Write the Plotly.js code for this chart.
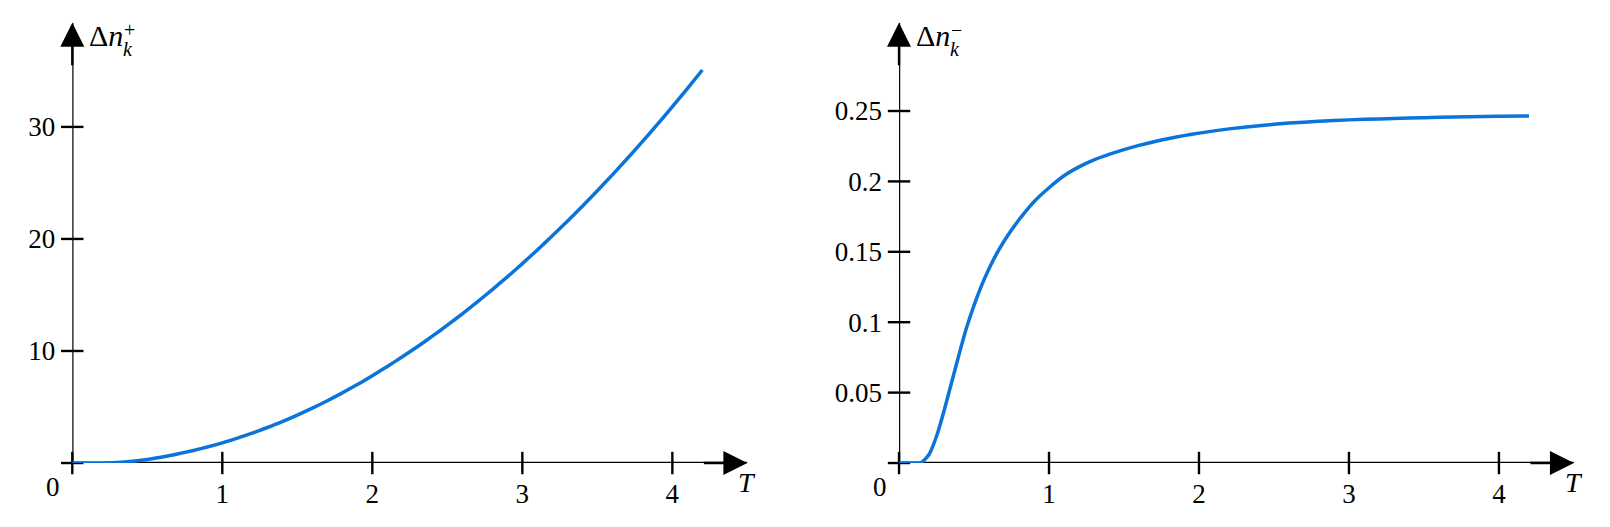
<!DOCTYPE html>
<html>
<head>
<meta charset="utf-8">
<script src="https://cdn.plot.ly/plotly-3.0.1.min.js"></script>
<style>
  html, body { margin: 0; padding: 0; background: #fff; }
  #chart { width: 1610px; height: 527px; }
</style>
</head>
<body>
<div id="chart"></div>
<script>
const tPlus = [0, 0.1, 0.2, 0.3, 0.4, 0.5, 0.6, 0.7, 0.8, 0.9, 1.0, 1.1, 1.2, 1.3, 1.4, 1.5, 1.6, 1.7, 1.8, 1.9, 2.0,
  2.1, 2.2, 2.3, 2.4, 2.5, 2.6, 2.7, 2.8, 2.9, 3.0, 3.1, 3.2, 3.3, 3.4, 3.5, 3.6, 3.7, 3.8, 3.9, 4.0, 4.1, 4.2];
const nPlus = [0, 0, 0.005, 0.04, 0.15, 0.32, 0.53, 0.8, 1.1, 1.43, 1.8, 2.22, 2.67, 3.17, 3.7, 4.28, 4.9, 5.56, 6.26, 7.0, 7.8,
  8.62, 9.48, 10.38, 11.32, 12.3, 13.32, 14.38, 15.48, 16.62, 17.8, 19.02, 20.28, 21.58, 22.92, 24.3, 25.72, 27.18, 28.68, 30.22, 31.8, 33.42, 35.08];

const tMinus = [0, 0.1, 0.15, 0.2, 0.25, 0.3, 0.35, 0.4, 0.45, 0.5, 0.55, 0.6, 0.65, 0.7, 0.75, 0.8, 0.85, 0.9, 1.0,
  1.1, 1.2, 1.3, 1.4, 1.5, 1.6, 1.7, 1.8, 1.9, 2.0, 2.2, 2.4, 2.6, 2.8, 3.0, 3.2, 3.4, 3.6, 3.8, 4.0, 4.2];
const nMinus = [0, 0, 0.0005, 0.006, 0.019, 0.037, 0.057, 0.077, 0.096, 0.112, 0.126, 0.138, 0.1485, 0.1575, 0.1655, 0.1728, 0.1795, 0.1856, 0.1955,
  0.204, 0.2103, 0.2153, 0.2192, 0.2226, 0.2256, 0.2282, 0.2305, 0.2325, 0.2343, 0.2373, 0.2396, 0.2414, 0.2427, 0.2437, 0.2444, 0.245, 0.2455, 0.2459, 0.2462, 0.2465];

const xTicks = [1, 2, 3, 4];
const yTicksPlus = [10, 20, 30];
const yTicksMinus = [0.05, 0.1, 0.15, 0.2, 0.25];
const yTickTextMinus = ["0.05", "0.1", "0.15", "0.2", "0.25"];

const X_MAX = 4.5;
const Y_MAX_PLUS = 39.3;
const Y_MAX_MINUS = 0.3127;

const FONT = "Liberation Serif, Times New Roman, serif";
const BLUE = "#0a74da";
const INK = "#000";

function tickTraces(xa, ya, yTicks) {
  const common = { mode: "markers", hoverinfo: "skip", cliponaxis: false, showlegend: false, xaxis: xa, yaxis: ya };
  return [
    { ...common, x: [0, ...xTicks], y: [0, ...xTicks.map(() => 0)],
      marker: { symbol: "line-ns", size: 16, line: { width: 2.4, color: INK } } },
    { ...common, x: [0, ...yTicks.map(() => 0)], y: [0, ...yTicks],
      marker: { symbol: "line-ew", size: 16, line: { width: 2.4, color: INK } } },
  ];
}

function curve(x, y, xa, ya) {
  return { x, y, xaxis: xa, yaxis: ya, mode: "lines", cliponaxis: false, hoverinfo: "skip", showlegend: false,
    line: { color: BLUE, width: 3.5, shape: "spline", smoothing: 0.6 } };
}

function axisLines(xr, yr, yMax) {
  return [
    { type: "line", layer: "below", xref: xr, yref: yr, x0: 0, y0: 0, x1: X_MAX, y1: 0, line: { color: INK, width: 2.4 } },
    { type: "line", layer: "below", xref: xr, yref: yr, x0: 0, y0: 0, x1: 0, y1: yMax, line: { color: INK, width: 2.4 } },
  ];
}

function axisNotes(xr, yr, yMax, sign) {
  const arrow = { text: "", showarrow: true, arrowhead: 2, arrowsize: 2, arrowwidth: 2.4, arrowcolor: INK,
    xref: xr, yref: yr, axref: xr, ayref: yr, standoff: 0 };
  const txt = (text, size, extra) => ({ text, showarrow: false, xref: xr, yref: yr,
    font: { family: FONT, size, color: INK }, ...extra });
  return [
    { ...arrow, x: X_MAX, y: 0, ax: X_MAX - 0.3, ay: 0 },
    { ...arrow, x: 0, y: yMax, ax: 0, ay: yMax * 0.9 },
    txt("<i>T</i>", 28, { x: X_MAX, y: 0, xanchor: "center", yanchor: "middle", yshift: -19 }),
    txt("0", 27, { x: 0, y: 0, xanchor: "center", yanchor: "middle", xshift: -19, yshift: -24 }),
    txt("Δ<i>n</i>", 30, { x: 0, y: yMax, xanchor: "left", yanchor: "middle", xshift: 15, yshift: -13 }),
    txt(sign, 20, { x: 0, y: yMax, xanchor: "center", yanchor: "middle", xshift: 57, yshift: -7 }),
    txt("<i>k</i>", 20, { x: 0, y: yMax, xanchor: "center", yanchor: "middle", xshift: 56, yshift: -26 }),
  ];
}

const xAxisBase = {
  range: [0, X_MAX], tickvals: xTicks, ticktext: xTicks.map(String), ticks: "", showgrid: false,
  zeroline: false, showline: false, ticklabelstandoff: 12, fixedrange: true,
  tickfont: { family: FONT, size: 27, color: INK },
};
const yAxisBase = {
  ticks: "", showgrid: false, zeroline: false, showline: false, ticklabelstandoff: 16, fixedrange: true,
  tickfont: { family: FONT, size: 27, color: INK },
};

const traces = [
  ...tickTraces("x", "y", yTicksPlus),
  curve(tPlus, nPlus, "x", "y"),
  ...tickTraces("x2", "y2", yTicksMinus),
  curve(tMinus, nMinus, "x2", "y2"),
];

const layout = {
  width: 1610, height: 527,
  margin: { l: 0, r: 0, t: 0, b: 0 },
  paper_bgcolor: "#fff", plot_bgcolor: "rgba(0,0,0,0)",
  showlegend: false,
  xaxis: { ...xAxisBase, domain: [0.0449, 0.4642], anchor: "y" },
  yaxis: { ...yAxisBase, domain: [0.1214, 0.9569], range: [0, Y_MAX_PLUS], tickvals: yTicksPlus,
    ticktext: yTicksPlus.map(String), anchor: "x" },
  xaxis2: { ...xAxisBase, domain: [0.5584, 0.9776], anchor: "y2" },
  yaxis2: { ...yAxisBase, domain: [0.1214, 0.9569], range: [0, Y_MAX_MINUS], tickvals: yTicksMinus,
    ticktext: yTickTextMinus, anchor: "x2" },
  shapes: [...axisLines("x", "y", Y_MAX_PLUS), ...axisLines("x2", "y2", Y_MAX_MINUS)],
  annotations: [...axisNotes("x", "y", Y_MAX_PLUS, "+"), ...axisNotes("x2", "y2", Y_MAX_MINUS, "−")],
};

Plotly.newPlot("chart", traces, layout, { displayModeBar: false, staticPlot: true });
</script>
</body>
</html>
